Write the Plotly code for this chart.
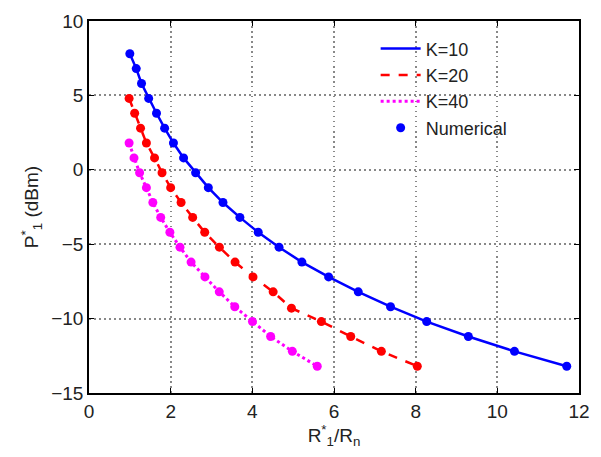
import plotly.graph_objects as go

# K=10
x_k10 = [1.0, 1.157, 1.286, 1.461, 1.653, 1.852, 2.068, 2.316, 2.611, 2.922, 3.281, 3.695,
         4.144, 4.654, 5.214, 5.868, 6.594, 7.385, 8.27, 9.29, 10.42, 11.70]
y_k10 = [7.8, 6.8, 5.8, 4.8, 3.8, 2.8, 1.8, 0.8, -0.2, -1.2, -2.2, -3.2,
         -4.2, -5.2, -6.2, -7.2, -8.2, -9.2, -10.2, -11.2, -12.2, -13.2]
# K=20
x_k20 = [0.982, 1.118, 1.262, 1.406, 1.605, 1.789, 2.0, 2.255, 2.539, 2.834, 3.193, 3.577,
         4.016, 4.51, 4.958, 5.69, 6.41, 7.16, 8.04]
y_k20 = [4.8, 3.8, 2.8, 1.8, 0.8, -0.2, -1.2, -2.2, -3.2, -4.2, -5.2, -6.2,
         -7.2, -8.2, -9.3, -10.2, -11.2, -12.2, -13.2]
# K=40
x_k40 = [0.982, 1.102, 1.239, 1.406, 1.564, 1.756, 1.981, 2.228, 2.5, 2.84, 3.19, 3.57,
         4.003, 4.448, 4.98, 5.59]
y_k40 = [1.8, 0.8, -0.2, -1.2, -2.2, -3.2, -4.2, -5.2, -6.2, -7.2, -8.2, -9.2,
         -10.2, -11.2, -12.2, -13.2]

x_ticks = [0, 2, 4, 6, 8, 10, 12]
y_ticks = [-15, -10, -5, 0, 5, 10]

FONT = "Liberation Sans, Arial"

fig = go.Figure()
fig.add_trace(go.Scatter(x=x_k10, y=y_k10, mode="lines", name="K=10",
                         line=dict(color="#0000ff", width=2.5)))
fig.add_trace(go.Scatter(x=x_k20, y=y_k20, mode="lines", name="K=20",
                         line=dict(color="#ff0000", width=2.5, dash="dash")))
fig.add_trace(go.Scatter(x=x_k40, y=y_k40, mode="lines", name="K=40",
                         line=dict(color="#ff00ff", width=3, dash="dot")))
fig.add_trace(go.Scatter(x=x_k10, y=y_k10, mode="markers", name="Numerical",
                         marker=dict(color="#0000ff", size=9)))
fig.add_trace(go.Scatter(x=x_k20, y=y_k20, mode="markers", name="Numerical", showlegend=False,
                         marker=dict(color="#ff0000", size=9)))
fig.add_trace(go.Scatter(x=x_k40, y=y_k40, mode="markers", name="Numerical", showlegend=False,
                         marker=dict(color="#ff00ff", size=9)))

axis_common = dict(showline=True, linecolor="black", linewidth=1.5, mirror="ticks",
                   ticks="inside", ticklen=5, tickcolor="black",
                   showgrid=True, gridcolor="#888888", griddash="1.5px,3.5px", gridwidth=1.5,
                   zeroline=False, tickfont=dict(family=FONT, size=19, color="#222"))

fig.update_xaxes(range=[0, 12], tickvals=x_ticks,
                 title=dict(text="R<sup>*</sup><sub>1</sub>/R<sub>n</sub>",
                            font=dict(family=FONT, size=19, color="#222"), standoff=6),
                 **axis_common)
fig.update_yaxes(range=[-15, 10], tickvals=y_ticks,
                 title=dict(text="P<sup>*</sup><sub>1</sub> (dBm)",
                            font=dict(family=FONT, size=19, color="#222"), standoff=8),
                 **axis_common)

fig.update_layout(
    width=601, height=457,
    margin=dict(l=89, r=11, t=12, b=64),
    paper_bgcolor="white", plot_bgcolor="white",
    legend=dict(x=0.585, y=0.975, xanchor="left", yanchor="top",
                bgcolor="rgba(255,255,255,0)", borderwidth=0,
                font=dict(family=FONT, size=18, color="#222"),
                itemwidth=40, tracegroupgap=0),
    showlegend=True,
)

fig.write_html("out.html")
